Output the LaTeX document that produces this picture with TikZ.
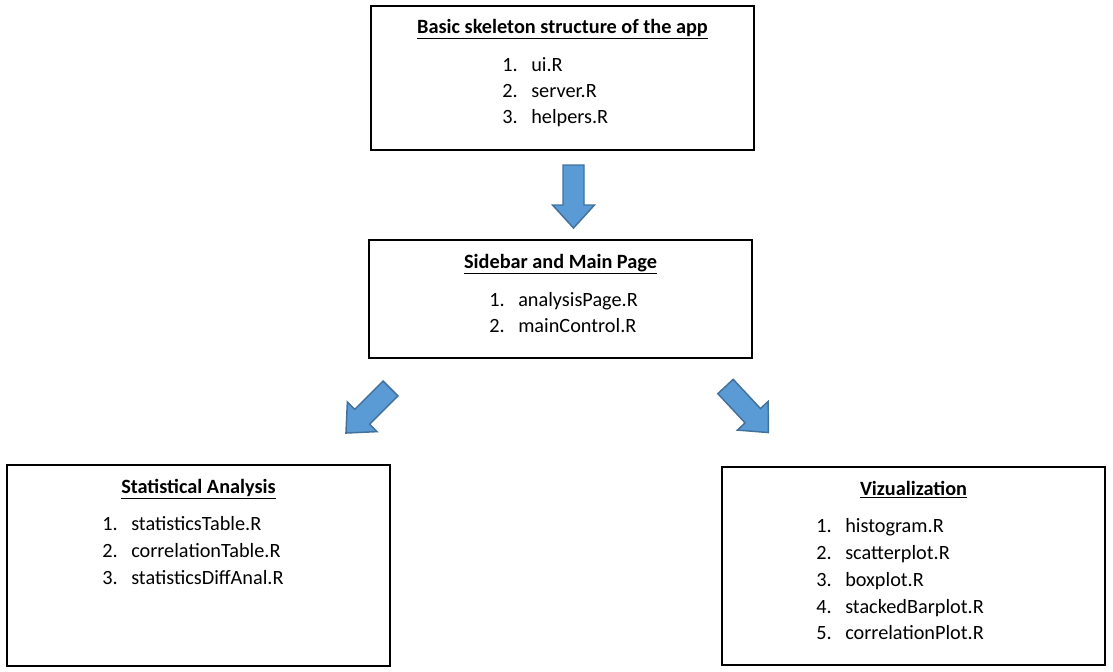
\documentclass[tikz,border=0pt]{standalone}
\usepackage{fontspec}
\setmainfont{Carlito}
\definecolor{arrfill}{HTML}{5B9BD5}
\definecolor{arrline}{HTML}{41719C}
\begin{document}
\begin{tikzpicture}[x=0.75pt,y=-0.75pt,
  box/.style={draw=black,line width=0.9pt,inner sep=0pt},
  ttl/.style={anchor=base,font=\fontsize{15.2}{18}\selectfont\bfseries,inner sep=0pt},
  itm/.style={anchor=base west,font=\fontsize{15.2}{18}\selectfont,inner sep=0pt},
  num/.style={anchor=base west,font=\fontsize{15.2}{18}\selectfont,inner sep=0pt},
  blockarrow/.pic={
    \draw[fill=arrfill,draw=arrline,line width=1.1pt,line join=miter]
      (0,-10.5) -- (40,-10.5) -- (40,-21) -- (63,0) -- (40,21) -- (40,10.5) -- (0,10.5) -- cycle;
  }]
\useasboundingbox (0,0) rectangle (1113,671);
% boxes
\node[box,minimum width=287.25pt,minimum height=108pt] (top) at (562.5,78) {};
\node[box,minimum width=287.25pt,minimum height=88.5pt] (mid) at (560.5,299) {};
\node[box,minimum width=287.25pt,minimum height=150.75pt] (left) at (198.5,565.5) {};
\node[box,minimum width=287.25pt,minimum height=148.5pt] (right) at (913.5,566) {};
% top texts
\node[ttl] (t1) at (562.5,33) {\underline{Basic skeleton structure of the app}};
\node[num] (t1n1) at (502,71) {1.}; \node[itm] (t1i1) at (531,71) {ui.R};
\node[num] (t1n2) at (502,97) {2.}; \node[itm] (t1i2) at (531,97) {server.R};
\node[num] (t1n3) at (502,123) {3.}; \node[itm] (t1i3) at (531,123) {helpers.R};
% middle
\node[ttl] (t2) at (560.5,268) {\underline{Sidebar and Main Page}};
\node[num] (t2n1) at (489,306) {1.}; \node[itm] (t2i1) at (518,306) {analysisPage.R};
\node[num] (t2n2) at (489,332) {2.}; \node[itm] (t2i2) at (518,332) {mainControl.R};
% left
\node[ttl] (t3) at (198.5,493) {\underline{Statistical Analysis}};
\node[num] (t3n1) at (102,530) {1.}; \node[itm] (t3i1) at (131,530) {statisticsTable.R};
\node[num] (t3n2) at (102,557) {2.}; \node[itm] (t3i2) at (131,557) {correlationTable.R};
\node[num] (t3n3) at (102,584) {3.}; \node[itm] (t3i3) at (131,584) {statisticsDiffAnal.R};
% right
\node[ttl] (t4) at (913.5,495) {\underline{Vizualization}};
\node[num] (t4n1) at (816,532) {1.}; \node[itm] (t4i1) at (845,532) {histogram.R};
\node[num] (t4n2) at (816,559) {2.}; \node[itm] (t4i2) at (845,559) {scatterplot.R};
\node[num] (t4n3) at (816,586) {3.}; \node[itm] (t4i3) at (845,586) {boxplot.R};
\node[num] (t4n4) at (816,613) {4.}; \node[itm] (t4i4) at (845,613) {stackedBarplot.R};
\node[num] (t4n5) at (816,639) {5.}; \node[itm] (t4i5) at (845,639) {correlationPlot.R};
% block arrows
\pic[rotate=-90] at (573.5,165) {blockarrow};
\pic[rotate=-135] at (390.5,388.5) {blockarrow};
\pic[rotate=-47] at (725.5,386.5) {blockarrow};
\end{tikzpicture}
\end{document}
